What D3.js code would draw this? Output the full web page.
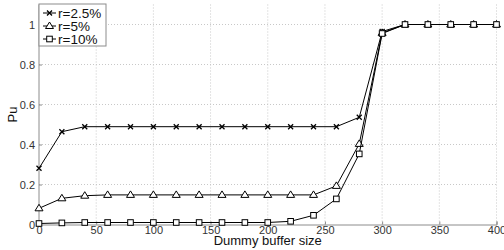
<!DOCTYPE html>
<html>
<head>
<meta charset="utf-8">
<script src="https://cdn.jsdelivr.net/npm/d3@7"></script>
<style>
  body { margin: 0; background: #fff; }
  text { font-family: "Liberation Sans", Arial, sans-serif; }
</style>
</head>
<body>
<script>
let bufferSizes = [0, 20, 40, 60, 80, 100, 120, 140, 160, 180, 200, 220, 240, 260, 280, 300, 320, 340, 360, 380, 400]
let pu25 = [0.281, 0.464, 0.489, 0.489, 0.489, 0.489, 0.489, 0.489, 0.489, 0.489, 0.489, 0.489, 0.489, 0.489, 0.536, 0.965, 1, 1, 1, 1, 1]
let pu5 = [0.081, 0.131, 0.144, 0.148, 0.148, 0.148, 0.148, 0.148, 0.148, 0.148, 0.148, 0.148, 0.148, 0.193, 0.403, 0.958, 1, 1, 1, 1, 1]
let pu10 = [0.005, 0.008, 0.01, 0.01, 0.01, 0.01, 0.01, 0.01, 0.01, 0.01, 0.01, 0.016, 0.046, 0.128, 0.353, 0.955, 1, 1, 1, 1, 1]
let seriesNames = ['r=2.5%', 'r=5%', 'r=10%']
let seriesMarkers = ['cross', 'triangle', 'square']
let xTicks = [0, 50, 100, 150, 200, 250, 300, 350, 400]
let yTicks = [0, 0.2, 0.4, 0.6, 0.8, 1]

let width = 504
let height = 250
let plotLeft = 39, plotRight = 496.5, plotTop = 4.5, plotBottom = 224.5

let xScale = d3.scaleLinear().domain([0, 400]).range([plotLeft, plotRight])
let yScale = d3.scaleLinear().domain([0, 1.1]).range([plotBottom, plotTop])

let svg = d3.select('body').append('svg').attr('width', width).attr('height', height)

// grid
svg.append('g').selectAll('line')
  .data(xTicks.filter(d => d > 0))
  .enter().append('line')
  .attr('x1', d => xScale(d)).attr('x2', d => xScale(d))
  .attr('y1', plotTop).attr('y2', plotBottom)
  .attr('stroke', '#c8c8c8').attr('stroke-dasharray', '1,2')
svg.append('g').selectAll('line')
  .data(yTicks.filter(d => d > 0))
  .enter().append('line')
  .attr('x1', plotLeft).attr('x2', plotRight)
  .attr('y1', d => yScale(d)).attr('y2', d => yScale(d))
  .attr('stroke', '#c8c8c8').attr('stroke-dasharray', '1,2')

// axes
let xAxis = svg.append('g').attr('transform', `translate(0,${plotBottom})`)
  .call(d3.axisBottom(xScale).tickValues(xTicks).tickSize(-3).tickPadding(2).tickFormat(d3.format('d')))
let yAxis = svg.append('g').attr('transform', `translate(${plotLeft},0)`)
  .call(d3.axisLeft(yScale).tickValues(yTicks).tickSize(-3).tickPadding(4).tickFormat(d => d === 0 || d === 1 ? d : d3.format('.1f')(d)))
for (let ax of [xAxis, yAxis]) {
  ax.select('.domain').attr('stroke', '#8c8c8c')
  ax.selectAll('.tick line').attr('stroke', '#8c8c8c')
  ax.selectAll('.tick text').attr('fill', '#333').style('font-size', '11px')
}
yAxis.select('.domain').attr('d', `M0,${plotBottom}V${plotTop}`)

svg.append('text')
  .attr('x', (plotLeft + plotRight) / 2).attr('y', 245)
  .attr('text-anchor', 'middle').style('font-size', '13px').attr('fill', '#111')
  .text('Dummy buffer size')
svg.append('text')
  .attr('transform', `translate(17,${yScale(0.55)}) rotate(-90)`)
  .attr('text-anchor', 'middle').style('font-size', '13px').attr('fill', '#111')
  .text('Pu')

function drawMarker(g, type, x, y) {
  if (type === 'cross') {
    g.append('path').attr('d', `M${x - 2.5},${y - 2.5}L${x + 2.5},${y + 2.5}M${x - 2.5},${y + 2.5}L${x + 2.5},${y - 2.5}`)
      .attr('stroke', '#000').attr('stroke-width', 1.3)
  } else if (type === 'triangle') {
    g.append('path').attr('d', `M${x},${y - 4}L${x + 4},${y + 2.5}L${x - 4},${y + 2.5}Z`)
      .attr('stroke', '#000').attr('fill', '#fff').attr('stroke-width', 1)
  } else {
    g.append('rect').attr('x', x - 2.8).attr('y', y - 2.8).attr('width', 5.6).attr('height', 5.6)
      .attr('stroke', '#000').attr('fill', '#fff').attr('stroke-width', 1)
  }
}

let line = d3.line().x(d => xScale(d[0])).y(d => yScale(d[1]))
let allSeries = [pu25, pu5, pu10]
allSeries.forEach((vals, i) => {
  let pts = bufferSizes.map((b, j) => [b, vals[j]])
  let g = svg.append('g')
  g.append('path').attr('d', line(pts)).attr('fill', 'none').attr('stroke', '#000').attr('stroke-width', 1)
  pts.forEach(p => drawMarker(g, seriesMarkers[i], xScale(p[0]), yScale(p[1])))
})

// legend
let lg = svg.append('g')
lg.append('rect').attr('x', plotLeft).attr('y', 4).attr('width', 67).attr('height', 42)
  .attr('fill', '#fff').attr('stroke', '#8c8c8c')
seriesNames.forEach((name, i) => {
  let y = 13 + i * 13
  lg.append('line').attr('x1', 43).attr('x2', 56).attr('y1', y).attr('y2', y).attr('stroke', '#000')
  drawMarker(lg, seriesMarkers[i], 49.5, y)
  lg.append('text').attr('x', 58).attr('y', y + 5).style('font-size', '13.5px').attr('fill', '#111').text(name)
})
</script>
</body>
</html>
